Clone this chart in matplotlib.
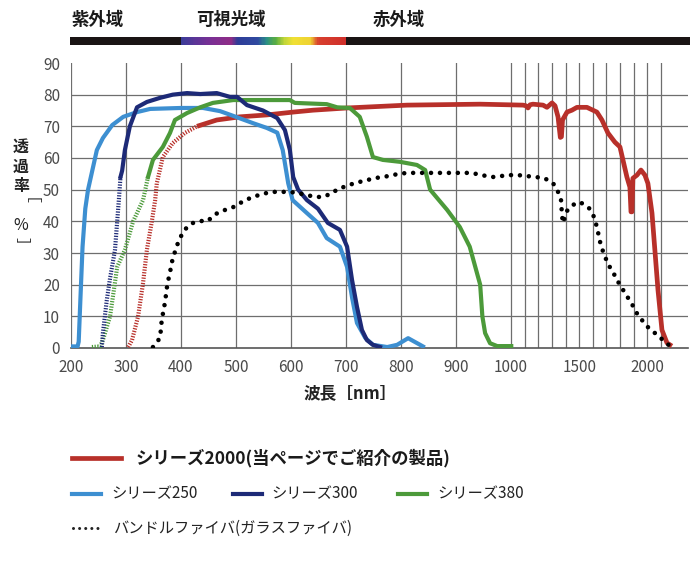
import numpy as np
import matplotlib
matplotlib.use("Agg")
import matplotlib.pyplot as plt
from matplotlib.lines import Line2D
from matplotlib.colors import LinearSegmentedColormap

plt.rcParams['font.family'] = ['Noto Sans CJK JP', 'DejaVu Sans']

# ---------------- data ----------------
# Series 250 (light blue)
wl_250 = [200, 212, 214, 217, 221, 226, 231, 247, 258, 275, 295, 320, 344, 400, 440, 471, 495,
          531, 556, 575, 585, 595, 603, 629, 649, 665, 689, 702, 711, 720, 735, 749, 775, 793,
          813, 840]
t_250 = [0.5, 0.5, 2, 15, 32, 44, 50, 62.5, 66.3, 70.4, 73, 74.5, 75.5, 75.8, 75.8, 74.8, 73.3,
         71, 69.5, 68, 62.5, 52, 46.7, 42.6, 39.5, 34.7, 32, 25.6, 16, 7.9, 3.2, 1, 0.3, 1,
         3.1, 0.5]

# Series 300 (navy): dashed (hatched) part and solid part
wl_300h = [256, 258, 265, 271, 280, 284, 287, 290]
t_300h = [0.3, 4.7, 15, 22, 31, 40, 46.7, 54]
wl_300 = [290, 293, 298, 307, 320, 338, 362, 385, 411, 435, 465, 489, 502, 520, 549, 575, 589,
          598, 604, 613, 629, 649, 667, 689, 702, 711, 720, 729, 738, 749, 762]
t_300 = [54, 56, 62.5, 70, 76, 77.7, 79, 80, 80.5, 80.2, 80.5, 79.3, 79.3, 76.7, 75, 72.6, 68.8,
         62.5, 54, 50, 46.7, 44, 39.5, 37.3, 32, 21.5, 13, 5.7, 2.5, 1, 0.3]

# Series 380 (green)
wl_380h = [238, 253, 258, 271, 284, 298, 313, 331, 340]
t_380h = [0.3, 0.5, 2.5, 10, 25.6, 31, 40, 46.7, 54]
wl_380 = [340, 349, 367, 380, 389, 411, 435, 458, 495, 556, 598, 607, 665, 684, 707, 725, 738,
          749, 767, 798, 829, 844, 853, 884, 907, 925, 944, 948, 953, 962, 975, 1002]
t_380 = [54, 59.4, 63.5, 67.9, 72, 74.2, 76, 77.4, 78.3, 78.3, 78.3, 77.4, 77, 76, 75.8, 73, 66.7,
         60.3, 59.4, 58.8, 57.8, 56.2, 50, 43.6, 38.2, 32, 20, 10, 4.7, 1.5, 0.6, 0.6]

# Series 2000 (red)
wl_2000h = [304, 311, 322, 331, 338, 347, 353, 356, 367, 385, 407, 429]
t_2000h = [0.3, 2.5, 10, 20.5, 31, 40, 46.7, 52, 60.3, 64.7, 67.9, 70]
wl_2000 = [429, 465, 507, 556, 604, 640, 702, 811, 944, 1088, 1110, 1125, 1140, 1161, 1235, 1264,
           1301, 1323, 1345, 1362, 1370, 1378, 1411, 1447, 1484, 1557, 1630, 1667, 1711, 1762,
           1799, 1821, 1850, 1872, 1880, 1887, 1894, 1924, 1953, 1982, 2004, 2034, 2078, 2107,
           2144, 2180]
t_2000 = [70, 72, 73, 73.6, 74.5, 75.1, 75.8, 76.7, 77, 76.7, 76.5, 75.8, 76.8, 77, 76.7, 76,
          77.4, 76.5, 73, 66.5, 66.7, 72, 74.5, 75.1, 76, 76, 74.5, 72, 67.9, 65,
          63.5, 59.4, 54, 50.8, 43, 43, 53.6, 54.6, 56.2, 54.6, 52, 42.6, 18.3, 5.7,
          1.6, 0.6]

# Bundle fiber (glass fiber) - dotted
wl_b = [349, 362, 365, 371, 375, 382, 385, 391, 395, 402, 411, 422, 435, 449, 458, 469, 485, 500,
        513, 531, 547, 565, 582, 598, 613, 629, 644, 658, 675, 685, 702, 716, 731, 747, 764, 778,
        793, 811, 842, 925, 940, 955, 967, 982, 996, 1051, 1117, 1176, 1242, 1308, 1345, 1367,
        1374, 1381, 1411, 1455, 1506, 1572, 1609, 1630, 1660, 1711, 1748, 1777, 1814, 1850,
        1887, 1916, 1953, 2004, 2056, 2107, 2166]
t_b = [0.3, 3.2, 8.8, 14.5, 19.9, 25.6, 28.4, 31.3, 33.5, 36, 38.2, 39.5, 40.1, 40.1, 41.7, 42.9,
       43.9, 44.8, 46.4, 47.7, 48.6, 49.3, 49.3, 49.3, 48.9, 48.3, 47.7, 47.7, 48.9, 50.2, 51.2,
       52.1, 52.7, 53.4, 54, 54.3, 54.9, 55.3, 55.3, 55.3, 54.9, 54.3, 54, 54.3, 54.6, 54.6,
       54.3, 54, 53.7, 52.1, 49.3, 46.7, 42, 39.5, 43.3, 45.2, 46.1, 44.2, 41.4, 38.2, 32.2,
       26.5, 24, 21.5, 18.9, 16.4, 13.9, 11.4, 9.2, 6.6, 4.7, 2.8, 0.6]

x_ticks = [200, 300, 400, 500, 600, 700, 800, 900, 1000, 1500, 2000]
x_grid = list(range(200, 2101, 100))
y_ticks = [0, 10, 20, 30, 40, 50, 60, 70, 80, 90]

region_labels = ['紫外域', '可視光域', '赤外域']
legend_main = 'シリーズ2000(当ページでご紹介の製品)'
legend_names = ['シリーズ250', 'シリーズ300', 'シリーズ380']
legend_bundle = 'バンドルファイバ(ガラスファイバ)'

spec_nm = [400, 425, 455, 490, 503, 540, 555, 572, 590, 605, 635, 650, 700]
spec_col = ['#3a3c98', '#5b3597', '#7b2f94', '#8e2c86', '#2e3c98', '#2f4aa0', '#2a8f86',
            '#5aae42', '#c8d838', '#f0e034', '#efd232', '#d8402e', '#cf2e2a']

C_LB = '#3d8fd1'
C_NV = '#1d2a77'
C_GR = '#4c9a3a'
C_RD = '#b8302a'

# -------------- scale --------------
K = 0.248


def fwd(x):
    x = np.asarray(x, dtype=float)
    return np.where(x <= 1000, x, 1000 + (x - 1000) * K)


def inv(y):
    y = np.asarray(y, dtype=float)
    return np.where(y <= 1000, y, 1000 + (y - 1000) / K)


W, H = 700, 570
fig = plt.figure(figsize=(7, 5.7), dpi=100)
L, R, T, B = 71, 688, 63, 348
ax = fig.add_axes([L / W, 1 - B / H, (R - L) / W, (B - T) / H])
ax.set_xscale('function', functions=(fwd, inv))
XMAX = 2298
ax.set_xlim(200, XMAX)
ax.set_ylim(0, 90)

grid_c = '#6e6e6e'
for g in x_grid:
    ax.axvline(g, color=grid_c, lw=0.9, zorder=1)
for yv in y_ticks[1:-1]:
    ax.axhline(yv, color=grid_c, lw=0.9, zorder=1)

for s in ['top', 'right', 'left']:
    ax.spines[s].set_visible(False)
ax.spines['bottom'].set_color('#555555')
ax.spines['bottom'].set_linewidth(1.2)

ax.set_xticks(x_ticks)
ax.set_xticklabels([str(v) for v in x_ticks])
ax.set_yticks(y_ticks)
ax.set_yticklabels([str(v) for v in y_ticks])
ax.tick_params(length=0, labelsize=11, labelcolor='#4a4a4a')
ax.tick_params(axis='x', pad=8)
ax.tick_params(axis='y', pad=8)

hatch_ls = (0, (0.3, 0.35))
LW = 3.0
# hatched segments
ax.plot(wl_2000h, t_2000h, color=C_RD, lw=LW, ls=hatch_ls, dash_capstyle='butt', zorder=3)
ax.plot(wl_380h, t_380h, color=C_GR, lw=LW, ls=hatch_ls, dash_capstyle='butt', zorder=3)
ax.plot(wl_300h, t_300h, color=C_NV, lw=LW, ls=hatch_ls, dash_capstyle='butt', zorder=3)
# solid lines
ax.plot(wl_2000, t_2000, color=C_RD, lw=3.4, solid_joinstyle='round', solid_capstyle='butt', zorder=4)
ax.plot(wl_250, t_250, color=C_LB, lw=LW, solid_joinstyle='round', zorder=5)
ax.plot(wl_380, t_380, color=C_GR, lw=LW, solid_joinstyle='round', zorder=5)
ax.plot(wl_300, t_300, color=C_NV, lw=LW, solid_joinstyle='round', zorder=6)
# dotted bundle fiber
ax.plot(wl_b, t_b, color='black', lw=3.3, ls=(0, (0.001, 1.95)), dash_capstyle='round', zorder=7)

# axis labels
fig.text(350 / W, 1 - 393 / H, '波長［nm］', ha='center', va='center', fontsize=12,
         fontweight='bold', color='#222222')
ylab_chars = ['透', '過', '率', '［', '%', '］']
ylab_y = [147, 167, 186, 205, 226, 245]
ylab_rot = [0, 0, 0, -90, 0, -90]
ylab_w = ['bold', 'bold', 'bold', 'normal', 'normal', 'normal']
for ch, yy, rr, ww in zip(ylab_chars, ylab_y, ylab_rot, ylab_w):
    fig.text(21 / W, 1 - yy / H, ch, ha='center', va='center', fontsize=11.5,
             fontweight=ww, color='#222222', rotation=rr)

# spectrum bar on top
axb = fig.add_axes([70 / W, 1 - 45 / H, (690 - 70) / W, 8 / H])
axb.set_xscale('function', functions=(fwd, inv))
axb.set_xlim(198, 2312)
axb.set_ylim(0, 1)
axb.axis('off')
axb.axvspan(198, 2312, color='#1a1414', lw=0)
cmap = LinearSegmentedColormap.from_list(
    'spec', [((n - spec_nm[0]) / (spec_nm[-1] - spec_nm[0]), c) for n, c in zip(spec_nm, spec_col)])
edges = np.linspace(spec_nm[0], spec_nm[-1], 151)
for a, b in zip(edges[:-1], edges[1:]):
    axb.axvspan(a, b + 0.3, color=cmap(((a + b) / 2 - spec_nm[0]) / (spec_nm[-1] - spec_nm[0])), lw=0)

for lab, xx in zip(region_labels, [71, 196, 373]):
    fig.text(xx / W, 1 - 20 / H, lab, ha='left', va='center', fontsize=12.5,
             fontweight='bold', color='#1a1a1a')

# legend (manual)
y1 = 1 - 458 / H
fig.add_artist(Line2D([72 / W, 121 / W], [y1, y1], color=C_RD, lw=3.4))
fig.text(136 / W, y1, legend_main, ha='left', va='center', fontsize=12.5, fontweight='bold',
         color='#1a1a1a')
y2 = 1 - 494 / H
for name, col, x0, xt in zip(legend_names, [C_LB, C_NV, C_GR], [72, 233, 398], [111, 271, 437]):
    fig.add_artist(Line2D([x0 / W, (x0 + 29) / W], [y2, y2], color=col, lw=3.0))
    fig.text(xt / W, y2, name, ha='left', va='center', fontsize=11, color='#222222')
y3 = 1 - 528 / H
fig.add_artist(Line2D([73 / W, 100 / W], [y3, y3], color='#222222', lw=2.2,
                      ls=(0, (0.001, 2.0)), dash_capstyle='round'))
fig.text(113 / W, y3, legend_bundle, ha='left', va='center', fontsize=11, color='#222222')

fig.savefig('out.png', dpi=100)
